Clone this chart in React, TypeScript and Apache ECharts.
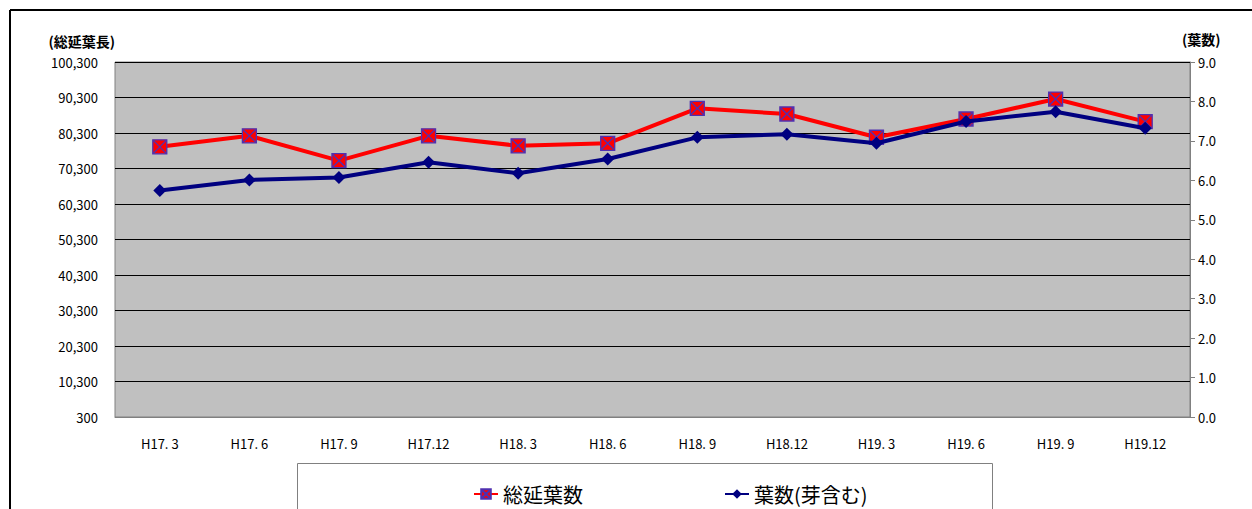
import React, { useEffect, useRef } from "react";
import * as echarts from "echarts";

const categories = ["H17. 3", "H17. 6", "H17. 9", "H17.12", "H18. 3", "H18. 6", "H18. 9", "H18.12", "H19. 3", "H19. 6", "H19. 9", "H19.12"];
const totalLength = [76400, 79500, 72500, 79500, 76700, 77400, 87250, 85650, 79100, 84250, 89870, 83500];
const leafCount = [5.74, 6.01, 6.07, 6.46, 6.18, 6.54, 7.09, 7.17, 6.94, 7.49, 7.74, 7.32];
const leftBase = 300;
const leftSeriesName = "総延葉数";
const rightSeriesName = "葉数(芽含む)";

const FONT = "'Noto Sans CJK JP', sans-serif";
const redSymbol = "path://M0,0H10V10H0ZM0,0L10,10M10,0L0,10";

export default function App() {
  const ref = useRef<HTMLDivElement>(null);
  useEffect(() => {
    if (!ref.current) return;
    const chart = echarts.init(ref.current, undefined, { renderer: "svg" });
    chart.setOption({
      animation: false,
      backgroundColor: "#ffffff",
      textStyle: { fontFamily: FONT },
      grid: {
        left: 115,
        right: 62,
        top: 62,
        bottom: 92,
        show: true,
        backgroundColor: "#c0c0c0",
        borderColor: "#808080",
        borderWidth: 1,
      },
      legend: {
        left: 468,
        top: 479,
        itemGap: 141,
        itemWidth: 24,
        itemHeight: 12,
        textStyle: { fontSize: 20, color: "#000", fontFamily: FONT },
        data: [leftSeriesName, rightSeriesName],
      },
      xAxis: {
        type: "category",
        data: categories,
        boundaryGap: true,
        axisLine: { lineStyle: { color: "#808080" } },
        axisTick: { inside: true, length: 5, lineStyle: { color: "#808080" } },
        axisLabel: { color: "#000", fontSize: 13, margin: 20, fontFamily: FONT },
      },
      yAxis: [
        {
          type: "value",
          min: 0,
          max: 100000,
          interval: 10000,
          name: "(総延葉長)",
          nameLocation: "end",
          nameGap: 14,
          nameTextStyle: { color: "#000", fontSize: 14, fontWeight: "bold", align: "right", padding: [0, 0, 0, 0] },
          axisLine: { show: false },
          axisTick: { show: false },
          axisLabel: {
            color: "#000",
            fontSize: 13,
            margin: 17,
            formatter: (v: number) => (v + leftBase).toLocaleString("en-US"),
          },
          splitLine: { show: true, lineStyle: { color: "#000", width: 1 } },
        },
        {
          type: "value",
          min: 0,
          max: 9,
          interval: 1,
          name: "(葉数)",
          nameLocation: "end",
          nameGap: 16,
          nameTextStyle: { color: "#000", fontSize: 14, fontWeight: "bold", align: "left", padding: [0, 0, 0, -8] },
          axisLine: { show: true, lineStyle: { color: "#808080" } },
          axisTick: { show: true, length: 5, lineStyle: { color: "#808080" } },
          axisLabel: { color: "#000", fontSize: 13, margin: 8, formatter: (v: number) => v.toFixed(1) },
          splitLine: { show: false },
        },
      ],
      series: [
        {
          name: leftSeriesName,
          type: "line",
          yAxisIndex: 0,
          data: totalLength.map((v) => v - leftBase),
          symbol: redSymbol,
          symbolSize: 14,
          lineStyle: { color: "#ff0000", width: 4 },
          itemStyle: { color: "#ff0000", borderColor: "#5030b0", borderWidth: 1.3 },
          z: 3,
        },
        {
          name: rightSeriesName,
          type: "line",
          yAxisIndex: 1,
          data: leafCount,
          symbol: "diamond",
          symbolSize: 13,
          lineStyle: { color: "#000080", width: 4 },
          itemStyle: { color: "#000080" },
          z: 4,
        },
      ],
      graphic: [
        { type: "line", shape: { x1: 10, y1: 10, x2: 1252, y2: 10 }, style: { stroke: "#000", lineWidth: 2 } },
        { type: "line", shape: { x1: 10, y1: 10, x2: 10, y2: 509 }, style: { stroke: "#000", lineWidth: 2 } },
        { type: "rect", shape: { x: 297.5, y: 463.5, width: 695, height: 60 }, style: { fill: "none", stroke: "#808080", lineWidth: 1 }, z: -1 },
      ],
    });
    return () => chart.dispose();
  }, []);
  return <div ref={ref} style={{ position: "fixed", left: 0, top: 0, width: 1252, height: 509 }} />;
}
